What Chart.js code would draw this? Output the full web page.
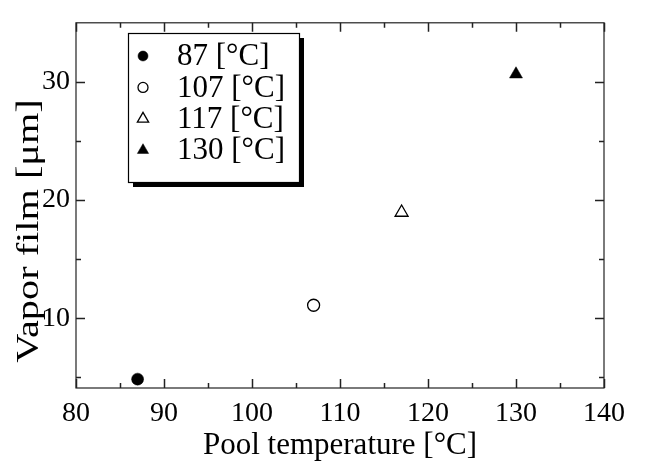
<!DOCTYPE html>
<html>
<head>
<meta charset="utf-8">
<script src="https://cdn.jsdelivr.net/npm/chart.js@4"></script>
<style>
  html, body { margin: 0; padding: 0; background: #fff; }
  #wrap { width: 646px; height: 465px; }
</style>
</head>
<body>
<div id="wrap"><canvas id="chart"></canvas></div>
<script>
// data
const poolTemps = [87, 107, 117, 130];
const filmThickness = [4.85, 11.1, 18.95, 30.65];
const seriesLabels = ['87 [°C]', '107 [°C]', '117 [°C]', '130 [°C]'];
const markerStyles = ['circle', 'circle', 'triangle', 'triangle'];
const markerFilled = [true, false, false, true];
const xTicks = [80, 90, 100, 110, 120, 130, 140];
const xMinorTicks = [85, 95, 105, 115, 125, 135];
const yTicks = [10, 20, 30];
const yMinorTicks = [5, 15, 25];
const yTitle = 'Vapor film [μm]';

const FONT = '"Liberation Serif", "Times New Roman", serif';

const datasets = poolTemps.map((t, i) => ({
    label: seriesLabels[i],
    data: [{ x: t, y: filmThickness[i] }],
    pointStyle: markerStyles[i],
    pointRadius: markerStyles[i] === 'circle' ? 6 : 7.5,
    backgroundColor: markerFilled[i] ? '#000' : '#fff',
    borderColor: '#000',
    borderWidth: markerFilled[i] ? 0.5 : 1.3
}));

// frame + inward ticks on all four sides
const framePlugin = {
    id: 'frame',
    afterDatasetsDraw(chart) {
        const { ctx, chartArea: a, scales } = chart;
        ctx.save();
        ctx.strokeStyle = '#222';
        ctx.lineWidth = 1.2;
        ctx.strokeRect(a.left, a.top, a.right - a.left, a.bottom - a.top);
        ctx.lineWidth = 1.5;
        const tick = (vals, len, isX) => {
            vals.forEach(v => {
                ctx.beginPath();
                if (isX) {
                    const px = Math.round(scales.x.getPixelForValue(v)) + 0.5;
                    ctx.moveTo(px, a.bottom); ctx.lineTo(px, a.bottom - len);
                    ctx.moveTo(px, a.top); ctx.lineTo(px, a.top + len);
                } else {
                    const py = Math.round(scales.y.getPixelForValue(v)) + 0.5;
                    ctx.moveTo(a.left, py); ctx.lineTo(a.left + len, py);
                    ctx.moveTo(a.right, py); ctx.lineTo(a.right - len, py);
                }
                ctx.stroke();
            });
        };
        tick(xTicks, 9, true);
        tick(xMinorTicks, 5, true);
        tick(yTicks, 9, false);
        tick(yMinorTicks, 5, false);

        // y title: the original is drawn stretched along its length
        ctx.translate(30, 231);
        ctx.rotate(-Math.PI / 2);
        ctx.scale(1.3, 1);
        ctx.font = '31px ' + FONT;
        ctx.fillStyle = '#000';
        ctx.textAlign = 'center';
        ctx.textBaseline = 'middle';
        ctx.fillText(yTitle, 0, 0);
        ctx.restore();
    }
};

// boxed legend with drop shadow, inside the plot
const boxLegend = {
    id: 'boxLegend',
    afterDraw(chart) {
        const ctx = chart.ctx;
        const x0 = 128, y0 = 33, w = 171, h = 149;
        ctx.save();
        ctx.fillStyle = '#000';
        ctx.fillRect(x0 + 5, y0 + 5, w, h);
        ctx.fillStyle = '#fff';
        ctx.fillRect(x0, y0, w, h);
        ctx.strokeStyle = '#000';
        ctx.lineWidth = 1.2;
        ctx.strokeRect(x0 + 0.5, y0 + 0.5, w, h);
        ctx.font = '31px ' + FONT;
        ctx.textBaseline = 'middle';
        chart.data.datasets.forEach((ds, i) => {
            const cy = y0 + 23 + i * 31.4;
            const style = {
                pointStyle: ds.pointStyle,
                radius: ds.pointStyle === 'circle' ? 5 : 6.5,
                rotation: 0,
                borderWidth: ds.borderWidth
            };
            ctx.fillStyle = ds.backgroundColor;
            ctx.strokeStyle = ds.borderColor;
            ctx.lineWidth = ds.borderWidth;
            Chart.helpers.drawPoint(ctx, style, x0 + 15, cy);
            ctx.fillStyle = '#000';
            ctx.fillText(ds.label, x0 + 49, cy + 1);
        });
        ctx.restore();
    }
};

new Chart(document.getElementById('chart'), {
    type: 'scatter',
    data: { datasets },
    plugins: [framePlugin, boxLegend],
    options: {
        responsive: true,
        maintainAspectRatio: false,
        animation: false,
        layout: { padding: { top: 12, right: 42, left: 0, bottom: 0 } },
        plugins: { legend: { display: false }, tooltip: { enabled: false } },
        scales: {
            x: {
                type: 'linear',
                min: 80, max: 140,
                afterBuildTicks: s => { s.ticks = xTicks.map(v => ({ value: v })); },
                afterFit: s => { s.height = 77; },
                grid: { display: false, drawTicks: false, tickLength: 0 },
                border: { display: false },
                ticks: { color: '#000', font: { family: FONT, size: 28 }, padding: 9, maxRotation: 0 },
                title: { display: true, text: 'Pool temperature [°C]', color: '#000',
                         font: { family: FONT, size: 31 }, padding: { top: 0, bottom: 1 } }
            },
            y: {
                type: 'linear',
                min: 4.1, max: 35,
                afterBuildTicks: s => { s.ticks = yTicks.map(v => ({ value: v })); },
                afterFit: s => { s.width = 76; },
                grid: { display: false, drawTicks: false, tickLength: 0 },
                border: { display: false },
                ticks: { color: '#000', font: { family: FONT, size: 28 }, padding: 6 },
                title: { display: false }
            }
        }
    }
});
</script>
</body>
</html>
